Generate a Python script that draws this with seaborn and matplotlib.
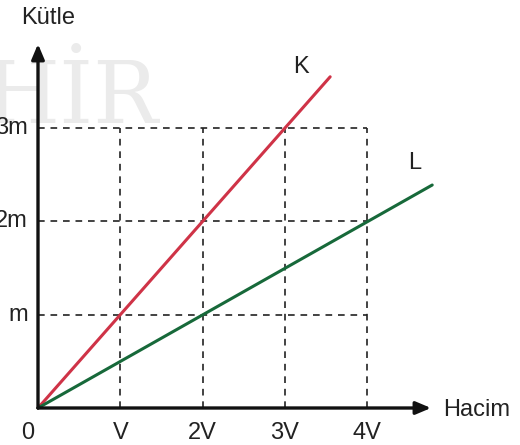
import matplotlib
matplotlib.use("Agg")
import matplotlib.pyplot as plt
import seaborn as sns
import pandas as pd

sns.set_style("white")
plt.rcParams['font.family'] = ['Liberation Sans', 'DejaVu Sans']

# Data
x_ticks = [1, 2, 3, 4]
x_labels = ["V", "2V", "3V", "4V"]
y_ticks = [1, 2, 3]
y_labels = ["m", "2m", "3m"]
k_volume = [0, 3.55]
k_mass = [0, 3.55]
l_volume = [0, 4.79]
l_mass = [0, 2.39]

fig = plt.figure(figsize=(5.2, 4.45), dpi=100)
ax = fig.add_axes([0, 0, 1, 1])
ax.set_xlim(-38 / 82.3, (520 - 38) / 82.3)
ax.set_ylim((408 - 445) / 93.3, 408 / 93.3)
ax.axis("off")

# watermark
ax.text((158 - 38) / 82.3, (408 - 123) / 93.3, "HİR", fontsize=62, color="#ebebeb",
        ha="right", va="baseline", family=["DejaVu Serif"], zorder=0)

# dashed grid
gx, gy = max(x_ticks), max(y_ticks)
for xv in x_ticks:
    ax.plot([xv, xv], [0, gy], ls=(0, (4, 3.5)), color="#222222", lw=1.2, zorder=1)
for yv in y_ticks:
    ax.plot([0, gx], [yv, yv], ls=(0, (4, 3.5)), color="#222222", lw=1.2, zorder=1)

df = pd.concat([
    pd.DataFrame({"Hacim": k_volume, "Kütle": k_mass, "s": "K"}),
    pd.DataFrame({"Hacim": l_volume, "Kütle": l_mass, "s": "L"}),
])
sns.lineplot(data=df, x="Hacim", y="Kütle", hue="s", palette={"K": "#cf3347", "L": "#17693a"},
             lw=2.2, legend=False, ax=ax, zorder=3)

# axes arrows
arrow = dict(arrowstyle="-|>,head_length=0.9,head_width=0.38", color="#111111", lw=2.4,
             shrinkA=0, shrinkB=0)
ax.annotate("", xy=(0, (408 - 44) / 93.3), xytext=(0, 0), arrowprops=arrow, zorder=4)
ax.annotate("", xy=((431 - 38) / 82.3, 0), xytext=(0, 0), arrowprops=arrow, zorder=4)

fs = 17
for xv, lab in zip(x_ticks, x_labels):
    ax.text(xv, -0.27, lab, ha="center", va="center", fontsize=fs, color="#222222")
ax.text(-0.12, -0.27, "0", ha="center", va="center", fontsize=fs, color="#222222")
for yv, lab in zip(y_ticks, y_labels):
    ax.text(-0.12, yv, lab, ha="right", va="center", fontsize=fs, color="#222222")

ax.text(0.12, 4.18, "Kütle", ha="center", va="center", fontsize=fs, color="#222222")
ax.text(4.92, -0.02, "Hacim", ha="left", va="center", fontsize=fs, color="#222222")
ax.text(3.2, 3.65, "K", ha="center", va="center", fontsize=fs, color="#222222")
ax.text(4.58, 2.63, "L", ha="center", va="center", fontsize=fs, color="#222222")

fig.savefig("out.png", dpi=100)
